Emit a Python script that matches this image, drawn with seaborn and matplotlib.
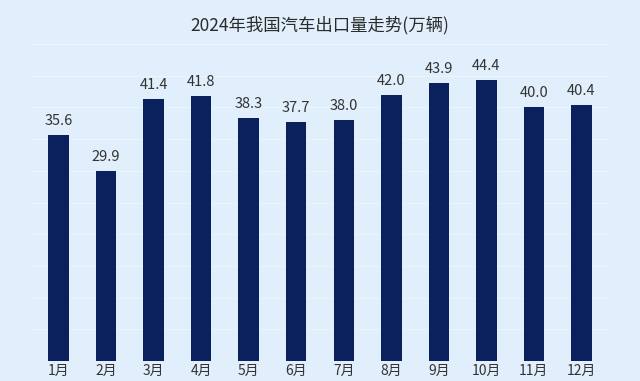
import pandas as pd
import numpy as np
import seaborn as sns
import matplotlib.pyplot as plt

months = ['1月', '2月', '3月', '4月', '5月', '6月', '7月', '8月', '9月', '10月', '11月', '12月']
exports = [35.6, 29.9, 41.4, 41.8, 38.3, 37.7, 38.0, 42.0, 43.9, 44.4, 40.0, 40.4]

df = pd.DataFrame({'month': months, 'value': exports})

bg = '#e0effb'
sns.set_theme(style='white')
plt.rcParams['font.family'] = ['Noto Sans CJK SC', 'DejaVu Sans']

fig = plt.figure(figsize=(6.4, 3.81), dpi=100, facecolor=bg)
ax = fig.add_axes([0.047, 0.0525, 0.906, 0.832])
ax.set_facecolor(bg)

sns.barplot(data=df, x='month', y='value', color='#0b215e', width=0.43, saturation=1,
            edgecolor='none', linewidth=0, ax=ax, zorder=3)

for i, v in enumerate(exports):
    ax.annotate(f'{v:.1f}', (i, v), xytext=(0, 5), textcoords='offset points',
                ha='center', va='bottom', fontsize=10.5, color='#333333')

ax.set_ylim(0, 50)
ax.set_xlim(-0.6, 11.6)
ax.set_yticks(np.arange(0, 51, 5))
ax.yaxis.grid(True, color='#e9f4fd', linewidth=1, zorder=0)
ax.set_yticklabels([])
ax.tick_params(axis='y', length=0)
ax.tick_params(axis='x', length=0, pad=2, labelsize=10, labelcolor='#333333')
ax.set_xlabel('')
ax.set_ylabel('')
for s in ax.spines.values():
    s.set_visible(False)

fig.text(0.5, 0.935, '2024年我国汽车出口量走势(万辆)', ha='center', va='center',
         fontsize=12.5, color='#2b2b2b')

fig.savefig('out.png', dpi=100, facecolor=bg)
